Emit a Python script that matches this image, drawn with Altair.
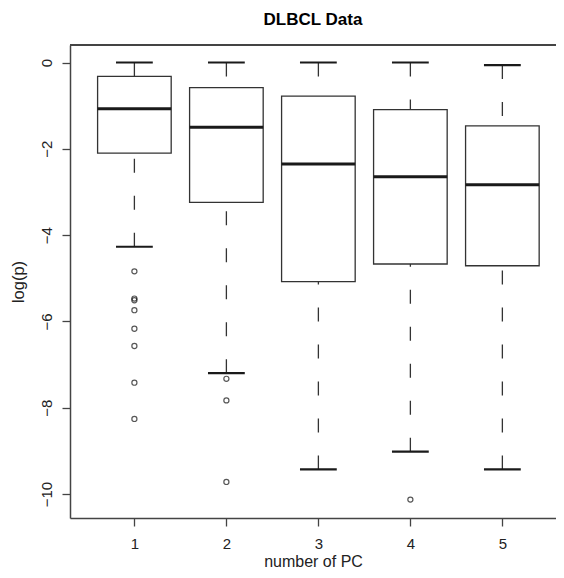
import altair as alt
import pandas as pd

# ---- data ----
pcs = [1, 2, 3, 4, 5]
upper_whisker = [0.0, 0.0, 0.0, 0.0, -0.06]
q3 = [-0.32, -0.58, -0.78, -1.09, -1.47]
median = [-1.07, -1.50, -2.35, -2.65, -2.83]
q1 = [-2.10, -3.24, -5.08, -4.67, -4.71]
lower_whisker = [-4.27, -7.20, -9.43, -9.02, -9.43]

outlier_pc = [1, 1, 1, 1, 1, 1, 1, 1, 2, 2, 2, 4]
outlier_val = [-4.84, -5.47, -5.51, -5.74, -6.17, -6.57, -7.42, -8.26,
               -7.33, -7.83, -9.72, -10.13]

x_ticks = [1, 2, 3, 4, 5]
y_ticks = [0, -2, -4, -6, -8, -10]

box_df = pd.DataFrame({"pc": pcs, "uw": upper_whisker, "q3": q3,
                       "med": median, "q1": q1, "lw": lower_whisker})
out_df = pd.DataFrame({"pc": outlier_pc, "val": outlier_val})

W, H = 486, 473
FONT = "Liberation Sans"
FRAME = "#444444"

xscale = alt.Scale(domain=[0.3, 5.583], nice=False, zero=False)
yscale = alt.Scale(domain=[-10.556, 0.406], nice=False, zero=False)

xaxis = alt.Axis(values=x_ticks, title="number of PC", grid=False, format="d",
                 tickSize=8, labelPadding=10, titlePadding=2,
                 labelFontSize=15, titleFontSize=16, labelAngle=0)
yaxis = alt.Axis(values=y_ticks, title="log(p)", grid=False,
                 tickSize=8, labelPadding=8, titlePadding=13,
                 labelAngle=270, labelAlign="center", labelBaseline="bottom",
                 labelFontSize=15, titleFontSize=16.5)

base = alt.Chart(box_df).transform_calculate(
    left="datum.pc - 0.4", right="datum.pc + 0.4",
    cl="datum.pc - 0.2", cr="datum.pc + 0.2",
)

# axes carrier (invisible points at the medians carry both axes)
axes = base.mark_point(opacity=0).encode(
    x=alt.X("pc:Q", scale=xscale, axis=xaxis),
    y=alt.Y("med:Q", scale=yscale, axis=yaxis),
)

upper_w = base.mark_rule(color="#333333", strokeWidth=1.3,
                         strokeDash=[14, 23]).encode(
    x="pc:Q", y="uw:Q", y2="q3:Q")
lower_w = base.mark_rule(color="#333333", strokeWidth=1.3,
                         strokeDash=[14, 23]).encode(
    x="pc:Q", y="lw:Q", y2="q1:Q")

boxes = base.mark_rect(fill="white", stroke="#333333", strokeWidth=1.3).encode(
    x="left:Q", x2="right:Q", y="q3:Q", y2="q1:Q")

med_line = base.mark_rule(color="#1a1a1a", strokeWidth=3).encode(
    x="left:Q", x2="right:Q", y="med:Q")
cap_up = base.mark_rule(color="#1a1a1a", strokeWidth=2.2).encode(
    x="cl:Q", x2="cr:Q", y="uw:Q")
cap_lo = base.mark_rule(color="#1a1a1a", strokeWidth=2.2).encode(
    x="cl:Q", x2="cr:Q", y="lw:Q")

outliers = alt.Chart(out_df).mark_point(shape="circle", filled=False,
                                        color="#111111", size=26,
                                        strokeWidth=1.2).encode(
    x="pc:Q", y="val:Q")

top_frame = alt.Chart(box_df).mark_rule(color=FRAME, strokeWidth=1.5).encode(
    x=alt.value(0), x2=alt.value(W), y=alt.value(0))

chart = alt.layer(
    axes, upper_w, lower_w, boxes, med_line, cap_up, cap_lo, outliers, top_frame
).properties(
    width=W, height=H,
    title=alt.TitleParams("DLBCL Data", fontSize=17, fontWeight="bold",
                          font=FONT, anchor="middle", offset=15, color="black"),
    autosize=alt.AutoSizeParams(type="none"),
    padding={"left": 62, "top": 37, "right": 0, "bottom": 52},
).configure_view(stroke=None).configure_axis(
    labelFont=FONT, titleFont=FONT, labelColor="#222222", titleColor="#222222",
    titleFontWeight="normal", domainColor=FRAME, domainWidth=1.5,
    tickColor=FRAME, tickWidth=1.3,
)

chart.save("out.html", embed_options={"renderer": "svg", "actions": False})
